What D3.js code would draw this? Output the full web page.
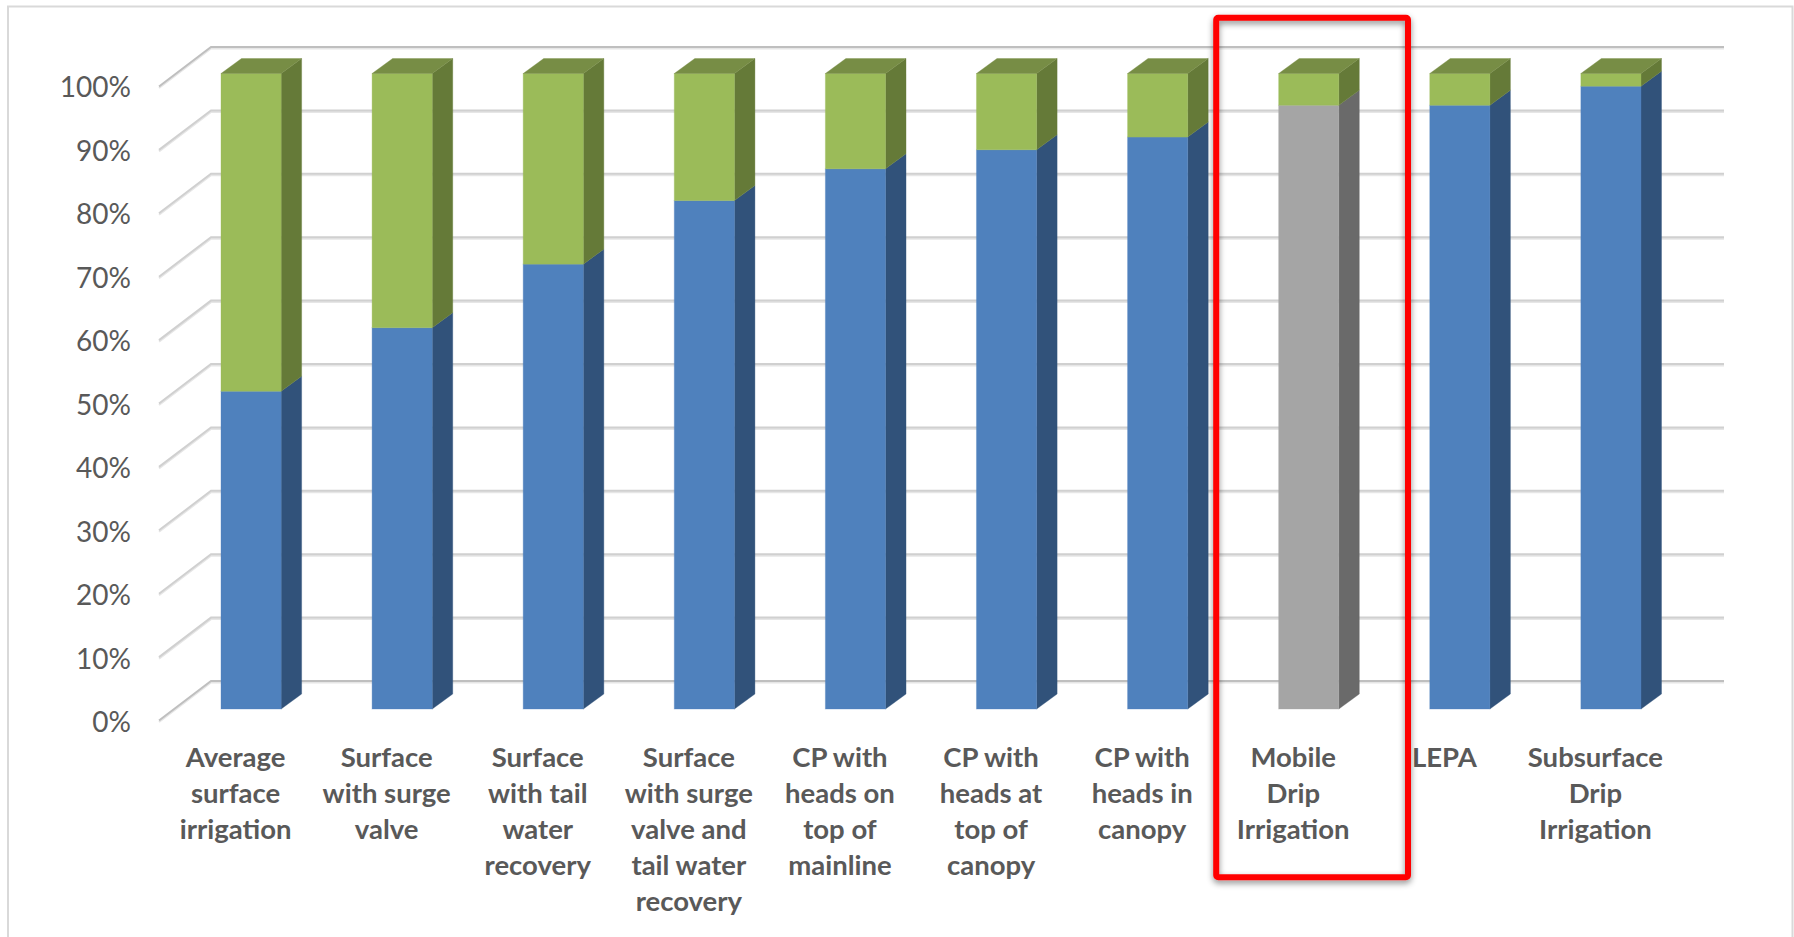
<!DOCTYPE html>
<html>
<head>
<meta charset="utf-8">
<script src="https://cdnjs.cloudflare.com/ajax/libs/d3/7.8.5/d3.min.js"></script>
<style>
  html, body { margin: 0; padding: 0; background: #fff; overflow: hidden; }
  svg { display: block; }
  text { font-family: Lato, "Open Sans", sans-serif; fill: #595959; }
</style>
</head>
<body>
<script>
const categories = [
  ['Average', 'surface', 'irrigation'],
  ['Surface', 'with surge', 'valve'],
  ['Surface', 'with tail', 'water', 'recovery'],
  ['Surface', 'with surge', 'valve and', 'tail water', 'recovery'],
  ['CP with', 'heads on', 'top of', 'mainline'],
  ['CP with', 'heads at', 'top of', 'canopy'],
  ['CP with', 'heads in', 'canopy'],
  ['Mobile', 'Drip', 'Irrigation'],
  ['LEPA'],
  ['Subsurface', 'Drip', 'Irrigation']
]
const lowerValues = [50, 60, 70, 80, 85, 88, 90, 95, 95, 98]
const upperValues = [50, 40, 30, 20, 15, 12, 10, 5, 5, 2]
const tickValues = [0, 10, 20, 30, 40, 50, 60, 70, 80, 90, 100]
const highlighted = 7

const config = {
  width: 1794,
  height: 937,
  depthX: 20.5,
  depthY: 15,
  gridDepthX: 52,
  gridDepthY: 39.5,
  gridRight: 1724,
  blue: { front: '#4f81bd', side: '#31527a' },
  green: { front: '#9bbb59', side: '#657a38', top: '#778d45' },
  grey: { front: '#a5a5a5', side: '#6a6a6a' }
}

const svg = d3.select('body').append('svg')
  .attr('width', config.width)
  .attr('height', config.height)

const shadow = svg.append('defs').append('filter')
  .attr('id', 'box-shadow')
  .attr('x', '-5%').attr('y', '-5%')
  .attr('width', '110%').attr('height', '110%')
shadow.append('feDropShadow')
  .attr('dx', 0).attr('dy', 3)
  .attr('stdDeviation', 3)
  .attr('flood-color', '#000')
  .attr('flood-opacity', 0.45)

// outer frame, its bottom edge runs off the page
svg.append('path')
  .attr('d', 'M8,940V6.5H1792.5V940')
  .attr('fill', 'none')
  .attr('stroke', '#d9d9d9')
  .attr('stroke-width', 2)

// separate scales for the back wall and for the front face of the bars
const yGrid = d3.scaleLinear().domain([0, 100]).range([681, 47])
const yBar = d3.scaleLinear().domain([0, 100]).range([709, 73.5])
const yLabel = d3.scaleLinear().domain([0, 100]).range([723, 87.5])

const x = d3.scaleBand()
  .domain(d3.range(categories.length))
  .range([221, 1641])
  .paddingInner(0.602)
  .paddingOuter(0)

const gridPath = d => `M${x(0) - 62},${yGrid(d) + config.gridDepthY}L${x(0) - 10},${yGrid(d)}H${config.gridRight}`

// pale line underneath gives the gridlines their soft lower edge
const grid = svg.append('g')
grid.selectAll('.grid-soft')
  .data(tickValues)
  .enter().append('path')
  .attr('class', 'grid-soft')
  .attr('d', gridPath)
  .attr('transform', 'translate(0, 1.5)')
  .attr('fill', 'none')
  .attr('stroke', '#e6e6e6')
  .attr('stroke-width', 2)
grid.selectAll('.grid-line')
  .data(tickValues)
  .enter().append('path')
  .attr('class', 'grid-line')
  .attr('d', gridPath)
  .attr('fill', 'none')
  .attr('stroke', d => d === 0 || d === 100 ? '#bfbfbf' : '#d0d0d0')
  .attr('stroke-width', 2)

const rows = categories.map((c, i) => ({
  i,
  lower: lowerValues[i],
  upper: upperValues[i]
}))

const bars = svg.selectAll('.bar')
  .data(rows)
  .enter().append('g')
  .attr('class', 'bar')

const drawSegment = (g, from, to, colors) => {
  const x0 = x(g.datum().i)
  const w = x.bandwidth()
  g.append('path')
    .attr('d', `M${x0 + w},${yBar(from)}l${config.depthX},${-config.depthY}V${yBar(to) - config.depthY}l${-config.depthX},${config.depthY}Z`)
    .attr('fill', colors.side)
    .attr('stroke', colors.side)
    .attr('stroke-opacity', 0.35)
  g.append('rect')
    .attr('x', x0)
    .attr('y', yBar(to))
    .attr('width', w)
    .attr('height', yBar(from) - yBar(to))
    .attr('fill', colors.front)
    .attr('stroke', colors.front)
    .attr('stroke-opacity', 0.35)
}

bars.each(function(d) {
  const g = d3.select(this)
  drawSegment(g, 0, d.lower, d.i === highlighted ? config.grey : config.blue)
  drawSegment(g, d.lower, d.lower + d.upper, config.green)
  const x0 = x(d.i)
  const w = x.bandwidth()
  g.append('path')
    .attr('d', `M${x0},${yBar(d.lower + d.upper)}l${config.depthX},${-config.depthY}h${w}l${-config.depthX},${config.depthY}Z`)
    .attr('fill', config.green.top)
    .attr('stroke', config.green.top)
    .attr('stroke-opacity', 0.35)
})

// percent labels
const yAxis = d3.axisLeft(yLabel)
  .tickValues(tickValues)
  .tickSize(0)
  .tickPadding(0)
  .tickFormat(d => d + '%')
svg.append('g')
  .attr('transform', 'translate(131, 0)')
  .call(yAxis)
  .call(g => g.select('.domain').remove())
  .selectAll('text')
  .style('font-size', '28px')

// category labels, one tspan per wrapped line
const labels = svg.selectAll('.category')
  .data(categories)
  .enter().append('text')
  .attr('class', 'category')
  .attr('text-anchor', 'middle')
  .style('font-size', '27.5px')
  .style('font-weight', 700)

labels.selectAll('tspan')
  .data((lines, i) => lines.map(line => ({ line, i })))
  .enter().append('tspan')
  .attr('x', d => x(0) + x.step() * d.i + x.bandwidth() / 2 - 15.5)
  .attr('y', (d, j) => 767 + j * 36)
  .text(d => d.line)

// red box around the mobile drip column
svg.append('rect')
  .attr('x', 1216.2)
  .attr('y', 17.8)
  .attr('width', 191.8)
  .attr('height', 859.5)
  .attr('rx', 2)
  .attr('fill', 'none')
  .attr('stroke', '#ff0000')
  .attr('stroke-width', 6)
  .attr('filter', 'url(#box-shadow)')
</script>
</body>
</html>
